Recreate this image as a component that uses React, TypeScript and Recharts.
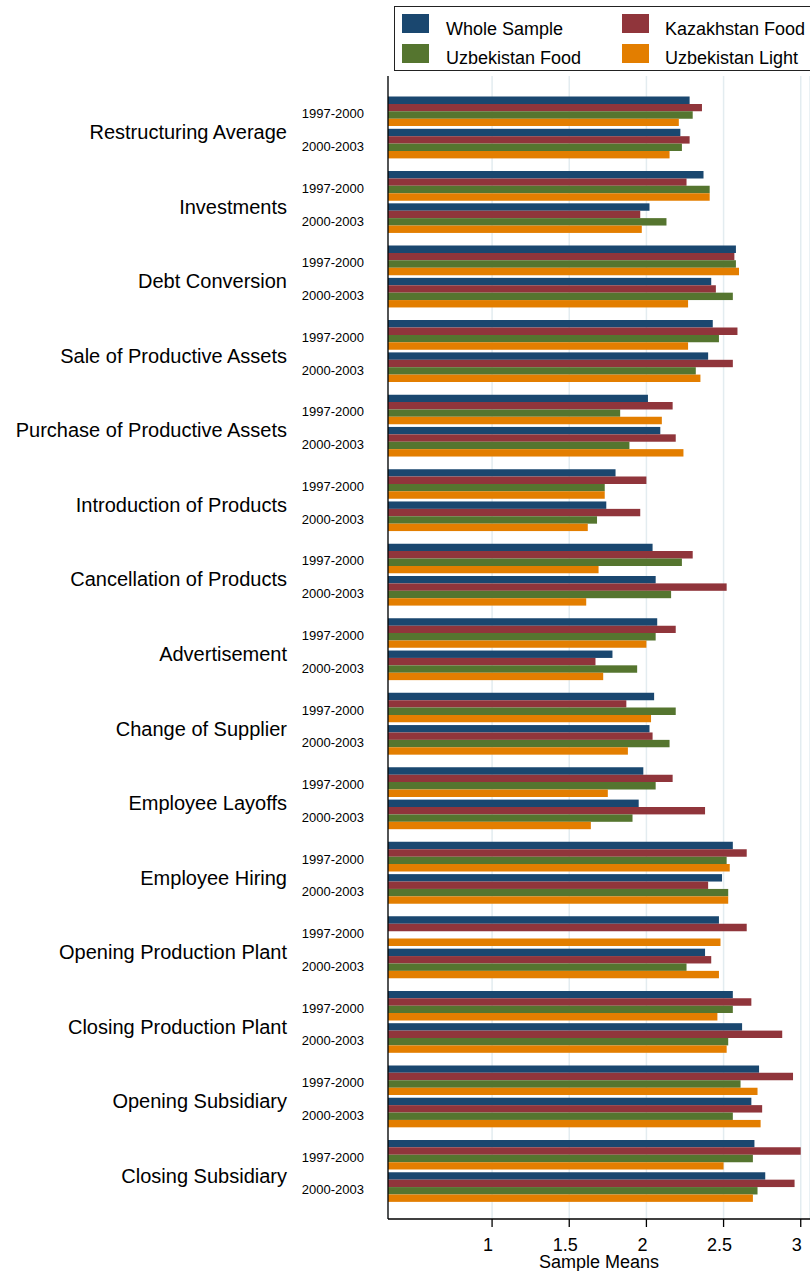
import { Bar, BarChart, CartesianGrid, XAxis, YAxis } from "recharts";

const categories = [
  "Restructuring Average",
  "Investments",
  "Debt Conversion",
  "Sale of Productive Assets",
  "Purchase of Productive Assets",
  "Introduction of Products",
  "Cancellation of Products",
  "Advertisement",
  "Change of Supplier",
  "Employee Layoffs",
  "Employee Hiring",
  "Opening Production Plant",
  "Closing Production Plant",
  "Opening Subsidiary",
  "Closing Subsidiary",
];

const periods = ["1997-2000", "2000-2003"];

// 1997-2000
const wholeSample97 = [2.28, 2.37, 2.58, 2.43, 2.01, 1.8, 2.04, 2.07, 2.05, 1.98, 2.56, 2.47, 2.56, 2.73, 2.7];
const kazakhFood97 = [2.36, 2.26, 2.57, 2.59, 2.17, 2.0, 2.3, 2.19, 1.87, 2.17, 2.65, 2.65, 2.68, 2.95, 3.0];
const uzbekFood97 = [2.3, 2.41, 2.58, 2.47, 1.83, 1.73, 2.23, 2.06, 2.19, 2.06, 2.52, null, 2.56, 2.61, 2.69];
const uzbekLight97 = [2.21, 2.41, 2.6, 2.27, 2.1, 1.73, 1.69, 2.0, 2.03, 1.75, 2.54, 2.48, 2.46, 2.72, 2.5];

// 2000-2003
const wholeSample00 = [2.22, 2.02, 2.42, 2.4, 2.09, 1.74, 2.06, 1.78, 2.02, 1.95, 2.49, 2.38, 2.62, 2.68, 2.77];
const kazakhFood00 = [2.28, 1.96, 2.45, 2.56, 2.19, 1.96, 2.52, 1.67, 2.04, 2.38, 2.4, 2.42, 2.88, 2.75, 2.96];
const uzbekFood00 = [2.23, 2.13, 2.56, 2.32, 1.89, 1.68, 2.16, 1.94, 2.15, 1.91, 2.53, 2.26, 2.53, 2.56, 2.72];
const uzbekLight00 = [2.15, 1.97, 2.27, 2.35, 2.24, 1.62, 1.61, 1.72, 1.88, 1.64, 2.53, 2.47, 2.52, 2.74, 2.69];

const xTicks = [1, 1.5, 2, 2.5, 3];

const series = [
  { key: "ws", name: "Whole Sample", color: "#1a476f" },
  { key: "kf", name: "Kazakhstan Food", color: "#90353b" },
  { key: "uf", name: "Uzbekistan Food", color: "#55752f" },
  { key: "ul", name: "Uzbekistan Light", color: "#e37e00" },
];

const chartData = categories.map((category, i) => ({
  category,
  ws97: wholeSample97[i],
  kf97: kazakhFood97[i],
  uf97: uzbekFood97[i],
  ul97: uzbekLight97[i],
  ws00: wholeSample00[i],
  kf00: kazakhFood00[i],
  uf00: uzbekFood00[i],
  ul00: uzbekLight00[i],
}));

const FONT = '"Liberation Sans", Arial, Helvetica, sans-serif';
const PLOT_LEFT = 388;
const GROUP_GAP = 2.7;

function CategoryTick(props: any) {
  const { y, payload } = props;
  return (
    <g fontFamily={FONT} fill="#000">
      <text x={PLOT_LEFT - 24} y={y - 7.5} fontSize={13} textAnchor="end">
        {periods[0]}
      </text>
      <text x={PLOT_LEFT - 101} y={y + 13.5} fontSize={20} textAnchor="end">
        {payload.value}
      </text>
      <text x={PLOT_LEFT - 24} y={y + 25.2} fontSize={13} textAnchor="end">
        {periods[1]}
      </text>
    </g>
  );
}

function ValueTick(props: any) {
  const { x, y, payload } = props;
  return (
    <text x={x - 4} y={y + 24} fontSize={18} fontFamily={FONT} textAnchor="middle" fill="#000">
      {payload.value}
    </text>
  );
}

// second period sits a little below the first one
function ShiftedBar(props: any) {
  const { x, y, width, height, fill } = props;
  if (!width || !height) return null;
  return <rect x={x} y={y + GROUP_GAP} width={width} height={height} fill={fill} />;
}

function LegendBox() {
  return (
    <div
      style={{
        position: "absolute",
        left: 394,
        top: 6,
        width: 440,
        height: 63,
        border: "1px solid #222",
        background: "#fff",
        fontFamily: FONT,
        fontSize: 18,
      }}
    >
      {series.map((s, i) => {
        const col = i % 2;
        const row = Math.floor(i / 2);
        return (
          <div key={s.key}>
            <div
              style={{
                position: "absolute",
                left: col === 0 ? 7 : 227,
                top: row === 0 ? 7 : 37,
                width: 27,
                height: 19,
                background: s.color,
              }}
            />
            <div
              style={{
                position: "absolute",
                left: col === 0 ? 51 : 270,
                top: row === 0 ? 11 : 40,
                lineHeight: "22px",
                whiteSpace: "nowrap",
                color: "#000",
              }}
            >
              {s.name}
            </div>
          </div>
        );
      })}
    </div>
  );
}

export default function App() {
  return (
    <div
      style={{
        position: "absolute",
        left: 0,
        top: 0,
        width: 810,
        height: 1271,
        overflow: "hidden",
        background: "#fff",
      }}
    >
      <BarChart
        width={810}
        height={1271}
        data={chartData}
        layout="vertical"
        margin={{ top: 76, right: 0, bottom: 0, left: PLOT_LEFT - 380 }}
        barGap={0}
        barSize={7.4}
      >
        <CartesianGrid horizontal={false} stroke="#e3ecf0" strokeWidth={1.5} />
        <XAxis
          type="number"
          domain={[0.3256, 3.06]}
          ticks={xTicks}
          allowDataOverflow
          height={52}
          tickSize={8}
          tickMargin={0}
          tick={<ValueTick />}
          axisLine={{ stroke: "#000", strokeWidth: 1.3 }}
          tickLine={{ stroke: "#000", strokeWidth: 1.3 }}
          label={{
            content: (p: any) => (
              <text
                x={p.viewBox.x + p.viewBox.width / 2}
                y={p.viewBox.y + 49}
                fontSize={18}
                fontFamily={FONT}
                textAnchor="middle"
                fill="#000"
              >
                Sample Means
              </text>
            ),
          }}
        />
        <YAxis
          type="category"
          dataKey="category"
          width={380}
          padding={{ top: 12.5, bottom: 12.5 }}
          tickLine={false}
          axisLine={{ stroke: "#000", strokeWidth: 1.3 }}
          tick={<CategoryTick />}
          interval={0}
        />
        {series.map((s) => (
          <Bar key={s.key + "97"} dataKey={s.key + "97"} name={s.name} fill={s.color} isAnimationActive={false} />
        ))}
        {series.map((s) => (
          <Bar
            key={s.key + "00"}
            dataKey={s.key + "00"}
            name={s.name}
            fill={s.color}
            shape={<ShiftedBar />}
            isAnimationActive={false}
          />
        ))}
      </BarChart>
      <LegendBox />
    </div>
  );
}
